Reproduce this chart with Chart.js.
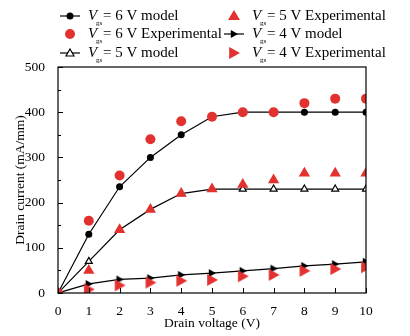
<!DOCTYPE html>
<html>
<head>
<meta charset="utf-8">
<script src="https://cdn.jsdelivr.net/npm/chart.js@4/dist/chart.umd.min.js"></script>
<style>
  html, body { margin: 0; padding: 0; background: #fff; }
  #wrap { width: 410px; height: 336px; }
</style>
</head>
<body>
<div id="wrap"><canvas id="c" width="410" height="336"></canvas></div>
<script>
const voltages = [0, 1, 2, 3, 4, 5, 6, 7, 8, 9, 10];
const model6 = [0, 130, 235, 300, 350, 390, 400, 400, 400, 400, 400];
const exp6 = [0, 160, 260, 340, 380, 390, 400, 400, 420, 430, 430];
const model5 = [0, 70, 140, 185, 220, 230, 230, 230, 230, 230, 230];
const exp5 = [0, 50, 140, 185, 220, 230, 240, 250, 265, 265, 265];
const model4 = [0, 20, 30, 33, 40, 44, 49, 54, 60, 64, 69];
const exp4 = [0, 8, 17, 23, 27, 29, 37, 40, 49, 53, 57];
const yTicks = [0, 100, 200, 300, 400, 500];

const RED = '#e2322f';
const FONT = '"Liberation Serif", "Times New Roman", serif';
const pts = arr => voltages.map((v, i) => ({ x: v, y: arr[i] }));

function arrowTri(size, color) {
  const c = document.createElement('canvas');
  c.width = size * 2 + 2; c.height = size * 2 + 2;
  const g = c.getContext('2d');
  const m = size + 1;
  g.fillStyle = color;
  g.beginPath();
  g.moveTo(m - size * 0.8, m - size);
  g.lineTo(m + size, m);
  g.lineTo(m - size * 0.8, m + size);
  g.closePath();
  g.fill();
  return c;
}
const redTriImg = arrowTri(6, RED);
const blackTriImg = arrowTri(4, '#000');

const datasets = [
  { label: 'Vgs = 6 V Experimental', data: pts(exp6), showLine: false, pointStyle: 'circle',
    pointRadius: 5, backgroundColor: RED, borderColor: RED, borderWidth: 0 },
  { label: 'Vgs = 5 V Experimental', data: pts(exp5), showLine: false, pointStyle: 'triangle',
    pointRadius: 6.5, backgroundColor: RED, borderColor: RED, borderWidth: 0 },
  { label: 'Vgs = 4 V Experimental', data: pts(exp4), showLine: false, pointStyle: redTriImg },
  { label: 'Vgs = 6 V model', data: pts(model6), borderColor: '#000', borderWidth: 1.2,
    pointStyle: 'circle', pointRadius: 3.5, backgroundColor: '#000', pointBorderWidth: 0 },
  { label: 'Vgs = 5 V model', data: pts(model5), borderColor: '#000', borderWidth: 1.2,
    pointStyle: 'triangle', pointRadius: 4, backgroundColor: '#fff', pointBorderWidth: 1.2, pointBorderColor: '#000' },
  { label: 'Vgs = 4 V model', data: pts(model4), borderColor: '#000', borderWidth: 1.2,
    pointStyle: blackTriImg }
];

// inward tick marks and frame
const frame = {
  id: 'frame',
  afterDraw(chart) {
    const { ctx, chartArea: a, scales: { x, y } } = chart;
    ctx.save();
    ctx.strokeStyle = '#000';
    ctx.lineWidth = 1.2;
    ctx.strokeRect(a.left, a.top, a.right - a.left, a.bottom - a.top);
    ctx.lineWidth = 1;
    ctx.beginPath();
    for (let v = 0; v <= 500; v += 50) {
      const py = Math.round(y.getPixelForValue(v)) + 0.5;
      const len = v % 100 === 0 ? 5 : 3;
      ctx.moveTo(a.left, py); ctx.lineTo(a.left + len, py);
    }
    voltages.forEach(v => {
      const px = Math.round(x.getPixelForValue(v)) + 0.5;
      ctx.moveTo(px, a.bottom); ctx.lineTo(px, a.bottom - 5);
    });
    ctx.stroke();
    ctx.restore();
  }
};

// two-column legend above the plot
const legendItems = [
  { col: 0, row: 0, kind: 'lineDot', text: '= 6 V model' },
  { col: 0, row: 1, kind: 'redDot', text: '= 6 V Experimental' },
  { col: 0, row: 2, kind: 'lineTri', text: '= 5 V model' },
  { col: 1, row: 0, kind: 'redTri', text: '= 5 V Experimental' },
  { col: 1, row: 1, kind: 'lineArrow', text: '= 4 V model' },
  { col: 1, row: 2, kind: 'redArrow', text: '= 4 V Experimental' }
];
const legendPlugin = {
  id: 'twoColLegend',
  afterDraw(chart) {
    const ctx = chart.ctx;
    const colX = [70, 234];
    const rowY = [16, 34, 53];
    ctx.save();
    legendItems.forEach(it => {
      const mx = colX[it.col], my = rowY[it.row];
      ctx.strokeStyle = '#000'; ctx.lineWidth = 1.2;
      if (it.kind.startsWith('line')) {
        ctx.beginPath(); ctx.moveTo(mx - 10, my); ctx.lineTo(mx + 10, my); ctx.stroke();
      }
      if (it.kind === 'lineDot') {
        ctx.fillStyle = '#000'; ctx.beginPath(); ctx.arc(mx, my, 3.5, 0, Math.PI * 2); ctx.fill();
      } else if (it.kind === 'redDot') {
        ctx.fillStyle = RED; ctx.beginPath(); ctx.arc(mx, my, 5, 0, Math.PI * 2); ctx.fill();
      } else if (it.kind === 'lineTri') {
        ctx.fillStyle = '#fff'; ctx.beginPath();
        ctx.moveTo(mx, my - 4); ctx.lineTo(mx + 4, my + 3); ctx.lineTo(mx - 4, my + 3); ctx.closePath();
        ctx.fill(); ctx.stroke();
      } else if (it.kind === 'redTri') {
        ctx.fillStyle = RED; ctx.beginPath();
        ctx.moveTo(mx, my - 6); ctx.lineTo(mx + 6, my + 4); ctx.lineTo(mx - 6, my + 4); ctx.closePath(); ctx.fill();
      } else if (it.kind === 'lineArrow') {
        ctx.drawImage(blackTriImg, mx - blackTriImg.width / 2, my - blackTriImg.height / 2);
      } else if (it.kind === 'redArrow') {
        ctx.drawImage(redTriImg, mx - redTriImg.width / 2, my - redTriImg.height / 2);
      }
      const tx = mx + 18;
      ctx.fillStyle = '#000';
      ctx.textBaseline = 'middle';
      ctx.font = 'italic 15px ' + FONT;
      ctx.fillText('V', tx, my);
      ctx.font = '7px ' + FONT;
      ctx.fillText('gs', tx + 8, my + 7);
      ctx.font = '15px ' + FONT;
      ctx.fillText(it.text, tx + 15, my);
    });
    ctx.restore();
  }
};

new Chart(document.getElementById('c'), {
  type: 'scatter',
  data: { datasets },
  options: {
    responsive: false,
    animation: false,
    layout: { padding: { top: 67, right: 44, left: 0, bottom: 0 } },
    plugins: { legend: { display: false }, tooltip: { enabled: false } },
    elements: { line: { tension: 0 } },
    datasets: { scatter: { showLine: true } },
    scales: {
      x: {
        type: 'linear', min: 0, max: 10,
        afterFit: s => { s.height = 43; },
        grid: { display: false },
        border: { display: false },
        ticks: { stepSize: 1, color: '#000', padding: 2, font: { family: FONT, size: 13.5 } },
        title: { display: true, text: 'Drain voltage (V)', color: '#000', padding: { top: 0, bottom: 4 },
          font: { family: FONT, size: 13.5 } }
      },
      y: {
        type: 'linear', min: 0, max: 500,
        afterFit: s => { s.width = 58; },
        afterBuildTicks: s => { s.ticks = yTicks.map(v => ({ value: v })); },
        grid: { display: false },
        border: { display: false },
        ticks: { color: '#000', padding: 5, font: { family: FONT, size: 13.5 } },
        title: { display: true, text: 'Drain current (mA/mm)', color: '#000', padding: { top: 12, bottom: 2 },
          font: { family: FONT, size: 13.5 } }
      }
    }
  },
  plugins: [frame, legendPlugin]
});
</script>
</body>
</html>
